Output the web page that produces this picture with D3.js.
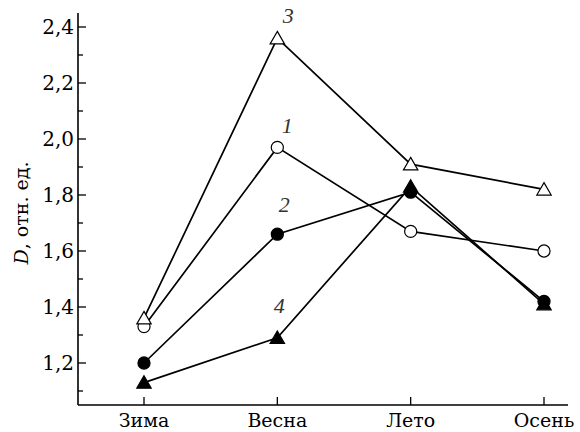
<!DOCTYPE html>
<html>
<head>
<meta charset="utf-8">
<script src="https://cdn.jsdelivr.net/npm/d3@7"></script>
<style>
    body { margin: 0; background: #fff; }
    svg { display: block; }
</style>
</head>
<body>
<div id="chart"></div>
<script>
// seasons along the x axis
const seasons = ['Зима', 'Весна', 'Лето', 'Осень'];
const yTicks = [1.2, 1.4, 1.6, 1.8, 2.0, 2.2, 2.4];
const yMinorTicks = [1.1, 1.3, 1.5, 1.7, 1.9, 2.1, 2.3];

// curve values
const series1 = [1.33, 1.97, 1.67, 1.60];
const series2 = [1.20, 1.66, 1.81, 1.42];
const series3 = [1.36, 2.36, 1.91, 1.82];
const series4 = [1.13, 1.29, 1.83, 1.41];
const seriesNames = ['1', '2', '3', '4'];

const width = 580;
const height = 432;
const serif = '"DejaVu Serif", "Liberation Serif", serif';
const timesItalic = '"Liberation Serif", "DejaVu Serif", serif';

const svg = d3
    .select('#chart')
    .append('svg')
    .attr('width', width)
    .attr('height', height)
    .attr('viewBox', [0, 0, width, height]);

const x = d3.scalePoint().domain(seasons).range([144, 544]);
const y = d3.scaleLinear().domain([1.05, 2.45]).range([405, 13]);

const axisLeft = 78;
const axisRight = 568;

// axes frame
svg.append('line')
    .attr('x1', axisLeft).attr('x2', axisLeft)
    .attr('y1', y(2.45)).attr('y2', y(1.05))
    .attr('stroke', '#000').attr('stroke-width', 1.6);
svg.append('line')
    .attr('x1', axisLeft).attr('x2', axisRight)
    .attr('y1', y(1.05)).attr('y2', y(1.05))
    .attr('stroke', '#000').attr('stroke-width', 1.6);

// y ticks (pointing inside)
svg.selectAll('.ytick')
    .data(yTicks)
    .enter()
    .append('line')
    .attr('class', 'ytick')
    .attr('x1', axisLeft).attr('x2', axisLeft + 8)
    .attr('y1', (d) => y(d)).attr('y2', (d) => y(d))
    .attr('stroke', '#000').attr('stroke-width', 1.3);

svg.selectAll('.yminor')
    .data(yMinorTicks)
    .enter()
    .append('line')
    .attr('class', 'yminor')
    .attr('x1', axisLeft).attr('x2', axisLeft + 5)
    .attr('y1', (d) => y(d)).attr('y2', (d) => y(d))
    .attr('stroke', '#000').attr('stroke-width', 1.3);

svg.selectAll('.ylabel')
    .data(yTicks)
    .enter()
    .append('text')
    .attr('class', 'ylabel')
    .attr('x', axisLeft - 4)
    .attr('y', (d) => y(d))
    .attr('dy', '0.36em')
    .attr('text-anchor', 'end')
    .style('font', `20px ${ serif }`)
    .text((d) => d.toFixed(1).replace('.', ','));

// x ticks (pointing up)
svg.selectAll('.xtick')
    .data(seasons)
    .enter()
    .append('line')
    .attr('class', 'xtick')
    .attr('x1', (d) => x(d)).attr('x2', (d) => x(d))
    .attr('y1', y(1.05)).attr('y2', y(1.05) - 8)
    .attr('stroke', '#000').attr('stroke-width', 1.3);

svg.selectAll('.xlabel')
    .data(seasons)
    .enter()
    .append('text')
    .attr('class', 'xlabel')
    .attr('x', (d) => x(d))
    .attr('y', y(1.05) + 22)
    .attr('text-anchor', 'middle')
    .style('font', `19px ${ serif }`)
    .text((d) => d);

// y axis title
const title = svg.append('text')
    .attr('transform', 'translate(28, 213) rotate(-90)')
    .attr('text-anchor', 'middle')
    .style('font', `19px ${ serif }`);
title.append('tspan').style('font-style', 'italic').text('D');
title.append('tspan').text(', отн. ед.');

// series definitions
const allSeries = [
    { name: seriesNames[0], values: series1, shape: 'circle', filled: false, dx: 10, dy: -14 },
    { name: seriesNames[1], values: series2, shape: 'circle', filled: true, dx: 7, dy: -22 },
    { name: seriesNames[2], values: series3, shape: 'triangle', filled: false, dx: 11, dy: -15 },
    { name: seriesNames[3], values: series4, shape: 'triangle', filled: true, dx: 2, dy: -25 },
];

const line = d3.line()
    .x((d, i) => x(seasons[i]))
    .y((d) => y(d));

svg.selectAll('.curve')
    .data(allSeries)
    .enter()
    .append('path')
    .attr('class', 'curve')
    .attr('d', (s) => line(s.values))
    .attr('fill', 'none')
    .attr('stroke', '#000')
    .attr('stroke-width', 1.7);

const circleSym = d3.symbol().type(d3.symbolCircle).size(115);
const triSym = d3.symbol().type(d3.symbolTriangle).size(90);

allSeries.forEach((s) => {
    svg.selectAll(null)
        .data(s.values)
        .enter()
        .append('path')
        .attr('transform', (d, i) => `translate(${ x(seasons[i]) },${ y(d) + (s.shape === 'triangle' ? 1.5 : 0) })`)
        .attr('d', s.shape === 'circle' ? circleSym() : triSym())
        .attr('fill', s.filled ? '#000' : '#fff')
        .attr('stroke', '#000')
        .attr('stroke-width', 1.2);

    svg.append('text')
        .attr('x', x(seasons[1]) + s.dx)
        .attr('y', y(s.values[1]) + s.dy)
        .attr('text-anchor', 'middle')
        .style('font', `italic 22px ${ timesItalic }`)
        .attr('fill', '#333')
        .text(s.name);
});
</script>
</body>
</html>
